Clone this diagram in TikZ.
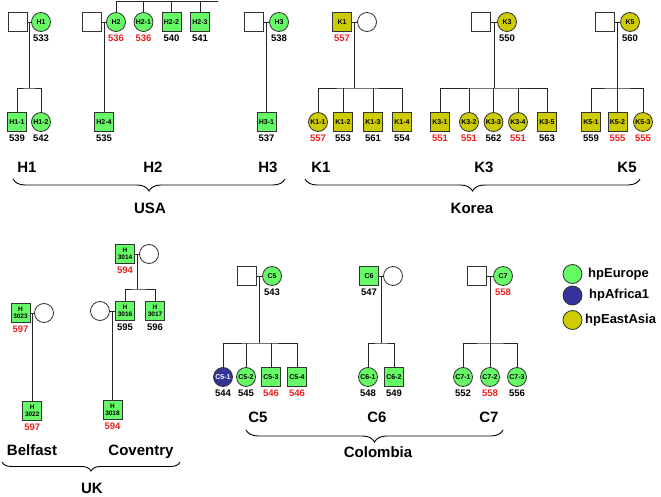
\documentclass[tikz,border=0pt]{standalone}
\usepackage{fontspec}
\setmainfont{Liberation Sans}
\usetikzlibrary{calc,decorations.pathreplacing}
\definecolor{grn}{RGB}{102,250,102}
\definecolor{ylw}{RGB}{204,204,0}
\definecolor{blu}{RGB}{51,51,153}
\definecolor{rednum}{RGB}{235,30,30}
\tikzset{
  base/.style={draw=black!80, line width=0.8pt, inner sep=0pt, font=\fontsize{7}{7.5}\selectfont\bfseries},
  sq/.style={base, rectangle, minimum size=19pt},
  ci/.style={base, circle, minimum size=19pt},
  G/.style={fill=grn}, Y/.style={fill=ylw}, B/.style={fill=blu, text=white}, W/.style={fill=white},
  two/.style={align=center, font=\fontsize{6.5}{7.5}\selectfont\bfseries},
  num/.style={font=\fontsize{9.5}{10}\selectfont\bfseries, inner sep=0pt},
  rnum/.style={num, text=rednum},
  ln/.style={draw=black!85, line width=0.8pt},
  big/.style={font=\fontsize{15}{16}\selectfont\bfseries, inner sep=0pt, text depth=0pt},
  lg/.style={font=\fontsize{13}{14}\selectfont\bfseries, inner sep=0pt, anchor=west},
  br/.style={draw, line width=0.9pt, decorate, decoration={brace, amplitude=#1}},
  br/.default=12pt,
  every label/.style={inner sep=0pt},
  label distance=2.5pt
}
\begin{document}
\begin{tikzpicture}[x=1pt,y=-1pt]
\useasboundingbox (0,0) rectangle (661,497);
% ---------- USA ----------
\node[sq,W] (h1f) at (17.5,22) {};
\node[ci,G,label={[num]below:533}] (h1) at (41,22) {H1};
\node[sq,W] (h2f) at (92,22) {};
\node[ci,G,label={[rnum]below:536}] (h2) at (116,22) {H2};
\node[ci,G,label={[rnum]below:536}] (h21) at (143.5,22) {H2-1};
\node[sq,G,label={[num]below:540}] (h22) at (171.5,22) {H2-2};
\node[sq,G,label={[num]below:541}] (h23) at (200,22) {H2-3};
\node[sq,W] (h3f) at (254,22) {};
\node[ci,G,label={[num]below:538}] (h3) at (279,22) {H3};
\node[sq,G,label={[num]below:539}] (h11) at (17,122) {H1-1};
\node[ci,G,label={[num]below:542}] (h12) at (41,122) {H1-2};
\node[sq,G,label={[num]below:535}] (h24) at (104,122) {H2-4};
\node[sq,G,label={[num]below:537}] (h31) at (266.5,122) {H3-1};
% connectors USA
\draw[ln] (h1f) -- (h1);
\coordinate (m1) at ($(h1f.east)!.5!(h1.west)$);
\coordinate (b1) at ($(m1)+(0,66)$);
\draw[ln] (m1) -- (b1);
\draw[ln] (h11) |- (b1) -| (h12);
\coordinate (h2top) at (218,1);
\draw[ln] (h2) |- (h2top);
\draw[ln] (h21) -- (h21 |- h2top);
\draw[ln] (h22) -- (h22 |- h2top);
\draw[ln] (h23) -- (h23 |- h2top);
\draw[ln] (h2f) -- (h2);
\coordinate (m2) at ($(h2f.east)!.5!(h2.west)$);
\draw[ln] (m2) -- (m2 |- h24.north);
\draw[ln] (h3f) -- (h3);
\coordinate (m3) at ($(h3f.east)!.5!(h3.west)$);
\draw[ln] (m3) -- (m3 |- h31.north);
% ---------- Korea ----------
\node[sq,Y,label={[rnum]below:557}] (k1) at (342,22) {K1};
\node[ci,W] (k1m) at (367,22) {};
\node[sq,W] (k3f) at (481,22) {};
\node[ci,Y,label={[num]below:550}] (k3) at (507,22) {K3};
\node[sq,W] (k5f) at (605,22) {};
\node[ci,Y,label={[num]below:560}] (k5) at (630,22) {K5};
\node[ci,Y,label={[rnum]below:557}] (k11) at (318,122) {K1-1};
\node[sq,Y,label={[num]below:553}] (k12) at (343,122) {K1-2};
\node[sq,Y,label={[num]below:561}] (k13) at (373,122) {K1-3};
\node[sq,Y,label={[num]below:554}] (k14) at (402,122) {K1-4};
\node[sq,Y,label={[rnum]below:551}] (k31) at (440,122) {K3-1};
\node[ci,Y,label={[rnum]below:551}] (k32) at (469,122) {K3-2};
\node[ci,Y,label={[num]below:562}] (k33) at (493.5,122) {K3-3};
\node[ci,Y,label={[rnum]below:551}] (k34) at (518,122) {K3-4};
\node[sq,Y,label={[num]below:563}] (k35) at (547,122) {K3-5};
\node[sq,Y,label={[num]below:559}] (k51) at (591,122) {K5-1};
\node[sq,Y,label={[rnum]below:555}] (k52) at (617.5,122) {K5-2};
\node[ci,Y,label={[rnum]below:555}] (k53) at (643,122) {K5-3};
\draw[ln] (k1) -- (k1m);
\coordinate (mk1) at ($(k1.east)!.5!(k1m.west)$);
\coordinate (bk1) at ($(mk1)+(0,66)$);
\draw[ln] (mk1) -- (bk1);
\draw[ln] (k11) |- (bk1) -| (k14);
\draw[ln] (k12) -- (k12 |- bk1);
\draw[ln] (k13) -- (k13 |- bk1);
\draw[ln] (k3f) -- (k3);
\coordinate (mk3) at ($(k3f.east)!.5!(k3.west)$);
\coordinate (bk3) at ($(mk3)+(0,66)$);
\draw[ln] (mk3) -- (bk3);
\draw[ln] (k31) |- (bk3) -| (k35);
\draw[ln] (k32) -- (k32 |- bk3);
\draw[ln] (k33) -- (k33 |- bk3);
\draw[ln] (k34) -- (k34 |- bk3);
\draw[ln] (k5f) -- (k5);
\coordinate (mk5) at ($(k5f.east)!.5!(k5.west)$);
\coordinate (bk5) at ($(mk5)+(0,66)$);
\draw[ln] (mk5) -- (bk5);
\draw[ln] (k51) |- (bk5) -| (k53);
\draw[ln] (k52) -- (k52 |- bk5);
% labels top
\node[big] (tH1) at (27,167) {H1};
\node[big] (tH2) at (153,167) {H2};
\node[big] (tH3) at (268,167) {H3};
\node[big] (tUSA) at (150,208) {USA};
\coordinate (usaL) at (13,179);
\coordinate (usaR) at (285,179);
\draw[br] (usaR) -- (usaL);
\node[big] (tK1) at (321,167) {K1};
\node[big] (tK3) at (484,167) {K3};
\node[big] (tK5) at (627,167) {K5};
\node[big] (tKorea) at (472,208) {Korea};
\coordinate (korL) at (305,179);
\coordinate (korR) at (640,179);
\draw[br] (korR) -- (korL);
% ---------- UK ----------
\node[sq,G,two,label={[rnum]below:597}] (u23) at (20.5,313) {H\\3023};
\node[ci,W] (u23w) at (44,313) {};
\draw[ln] (u23) -- (u23w);
\coordinate (mu1) at ($(u23.east)!.5!(u23w.west)$);
\node[sq,G,two,label={[rnum]below:597}] (u22) at (mu1 |- 0,411) {H\\3022};
\draw[ln] (mu1) -- (u22);
\node[sq,G,two,label={[rnum]below:594}] (u14) at (125,254) {H\\3014};
\node[ci,W] (u14w) at (149,254) {};
\draw[ln] (u14) -- (u14w);
\coordinate (mu2) at ($(u14.east)!.5!(u14w.west)$);
\coordinate (bu2) at ($(mu2)+(0,35)$);
\node[sq,G,two,label={[num]below:595}] (u16) at (125,311) {H\\3016};
\node[sq,G,two,label={[num]below:596}] (u17) at (155,311) {H\\3017};
\draw[ln] (mu2) -- (bu2);
\draw[ln] (u16) |- (bu2) -| (u17);
\node[ci,W] (u16w) at (100,311) {};
\draw[ln] (u16w) -- (u16);
\coordinate (mu3) at ($(u16w.east)!.5!(u16.west)$);
\node[sq,G,two,label={[rnum]below:594}] (u18) at (mu3 |- 0,410) {H\\3018};
\draw[ln] (mu3) -- (u18);
\node[big] (tBel) at (32,450.5) {Belfast};
\node[big] (tCov) at (141,450.5) {Coventry};
\node[big] (tUK) at (92,488.5) {UK};
\coordinate (ukL) at (2,462);
\coordinate (ukR) at (180,462);
\draw[br=9pt] (ukR) -- (ukL);
% ---------- Colombia ----------
\node[sq,W] (c5f) at (247,276) {};
\node[ci,G,label={[num]below:543}] (c5) at (272,276) {C5};
\node[ci,B,label={[num]below:544}] (c51) at (223,377) {C5-1};
\node[ci,G,label={[num]below:545}] (c52) at (246,377) {C5-2};
\node[sq,G,label={[rnum]below:546}] (c53) at (271,377) {C5-3};
\node[sq,G,label={[rnum]below:546}] (c54) at (297,377) {C5-4};
\draw[ln] (c5f) -- (c5);
\coordinate (mc5) at ($(c5f.east)!.5!(c5.west)$);
\coordinate (bc5) at ($(mc5)+(0,67)$);
\draw[ln] (mc5) -- (bc5);
\draw[ln] (c51) |- (bc5) -| (c54);
\draw[ln] (c52) -- (c52 |- bc5);
\draw[ln] (c53) -- (c53 |- bc5);
\node[sq,G,label={[num]below:547}] (c6) at (369,276) {C6};
\node[ci,W] (c6w) at (393,276) {};
\node[ci,G,label={[num]below:548}] (c61) at (368,377) {C6-1};
\node[sq,G,label={[num]below:549}] (c62) at (394,377) {C6-2};
\draw[ln] (c6) -- (c6w);
\coordinate (mc6) at ($(c6.east)!.5!(c6w.west)$);
\coordinate (bc6) at ($(mc6)+(0,67)$);
\draw[ln] (mc6) -- (bc6);
\draw[ln] (c61) |- (bc6) -| (c62);
\node[sq,W] (c7f) at (477,276) {};
\node[ci,G,label={[rnum]below:558}] (c7) at (503,276) {C7};
\node[ci,G,label={[num]below:552}] (c71) at (463,377) {C7-1};
\node[ci,G,label={[rnum]below:558}] (c72) at (490,377) {C7-2};
\node[ci,G,label={[num]below:556}] (c73) at (517,377) {C7-3};
\draw[ln] (c7f) -- (c7);
\coordinate (mc7) at ($(c7f.east)!.5!(c7.west)$);
\coordinate (bc7) at ($(mc7)+(0,67)$);
\draw[ln] (mc7) -- (bc7);
\draw[ln] (c71) |- (bc7) -| (c73);
\draw[ln] (c72) -- (c72 |- bc7);
\node[big] (tC5) at (258,417.5) {C5};
\node[big] (tC6) at (377,417.5) {C6};
\node[big] (tC7) at (489,417.5) {C7};
\node[big] (tCol) at (378,452) {Colombia};
\coordinate (colL) at (246,430);
\coordinate (colR) at (503,430);
\draw[br] (colR) -- (colL);
% ---------- Legend ----------
\node[ci,G] (lgE) at (572.5,274) {};
\node[ci,B] (lgA) at (572.5,295.5) {};
\node[ci,Y] (lgS) at (572.5,320) {};
\node[lg] (tE) at (588,274) {hpEurope};
\node[lg] (tA) at (589,295.5) {hpAfrica1};
\node[lg] (tS) at (585,320) {hpEastAsia};
\end{tikzpicture}
\end{document}
